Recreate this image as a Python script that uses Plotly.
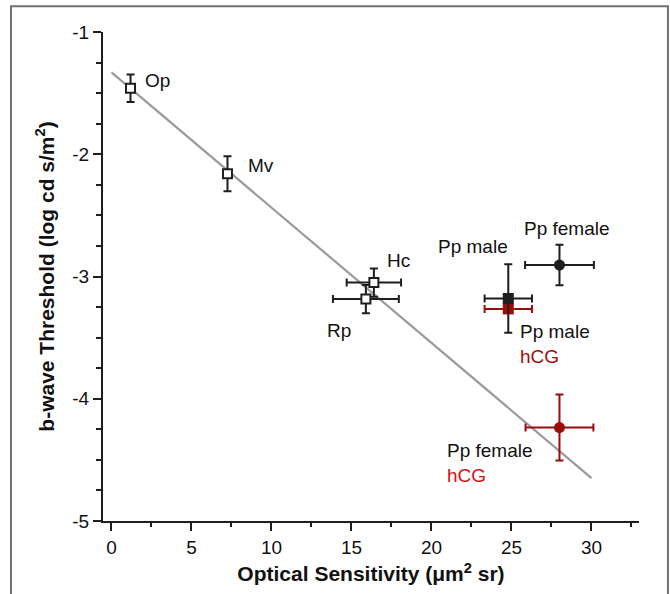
import plotly.graph_objects as go

# ---- data ----
species = ["Op", "Mv", "Hc", "Rp"]
species_sens = [1.19, 7.25, 16.4, 15.9]
species_thr = [-1.46, -2.16, -3.05, -3.185]
species_sens_err = [0, 0, 1.7, 2.06]
species_thr_err = [0.112, 0.143, 0.116, 0.115]

pp_names = ["Pp male", "Pp female"]
pp_sens = [24.8, 28.0]
pp_thr = [-3.18, -2.906]
pp_sens_err = [1.48, 2.15]
pp_thr_err = [0.28, 0.165]

hcg_names = ["Pp male", "Pp female"]
hcg_sens = [24.8, 28.0]
hcg_thr = [-3.265, -4.236]
hcg_sens_err = [1.48, 2.12]
hcg_thr_err = [0, 0.27]

fit_x = [0, 30]
fit_y = [-1.33, -4.65]

x_ticks = [0, 5, 10, 15, 20, 25, 30]
x_tick_labels = ["0", "5", "10", "15", "20", "25", "30"]
y_ticks = [-1, -2, -3, -4, -5]
y_tick_labels = ["-1", "-2", "-3", "-4", "-5"]

BLACK = "#1e1e1e"
RED = "#9b0b0b"
FONT = "Liberation Sans, Arial, sans-serif"

fig = go.Figure()

fig.add_trace(go.Scatter(x=fit_x, y=fit_y, mode="lines",
                         line=dict(color="#9a9a9a", width=2.2), hoverinfo="skip"))

fig.add_trace(go.Scatter(
    x=species_sens, y=species_thr, mode="markers",
    marker=dict(symbol="square", size=9, color="white", opacity=1,
                line=dict(color=BLACK, width=2)),
    error_x=dict(type="data", array=species_sens_err, color=BLACK, thickness=2, width=4),
    error_y=dict(type="data", array=species_thr_err, color=BLACK, thickness=2, width=4),
))

fig.add_trace(go.Scatter(
    x=hcg_sens, y=hcg_thr, mode="markers",
    marker=dict(symbol=["square", "circle"], size=11, color=RED, opacity=1,
                line=dict(width=0)),
    error_x=dict(type="data", array=hcg_sens_err, color=RED, thickness=2, width=4),
    error_y=dict(type="data", array=hcg_thr_err, color=RED, thickness=2, width=4),
))

fig.add_trace(go.Scatter(
    x=pp_sens, y=pp_thr, mode="markers",
    marker=dict(symbol=["square", "circle"], size=11, color=BLACK, opacity=1,
                line=dict(width=0)),
    error_x=dict(type="data", array=pp_sens_err, color=BLACK, thickness=2, width=4),
    error_y=dict(type="data", array=pp_thr_err, color=BLACK, thickness=2, width=4),
))

ann_font = dict(family=FONT, size=19, color="#111111")
# species labels (offsets in px from each point)
sp_offsets = {"Op": (12, 8, "left"), "Mv": (19, 8, "left"),
              "Hc": (11, 22, "left"), "Rp": (-41, -31, "left")}
for name, x, y in zip(species, species_sens, species_thr):
    dx, dy, anc = sp_offsets[name]
    fig.add_annotation(x=x, y=y, text=name, showarrow=False, xanchor=anc,
                       yanchor="middle", xshift=dx, yshift=dy, font=ann_font)

pp_offsets = {"Pp male": (2, 52, "right"), "Pp female": (8, 37, "center")}
for name, x, y in zip(pp_names, pp_sens, pp_thr):
    dx, dy, anc = pp_offsets[name]
    fig.add_annotation(x=x, y=y, text=name, showarrow=False, xanchor=anc,
                       yanchor="middle", xshift=dx, yshift=dy, font=ann_font)

hcg_offsets = {"Pp male": (10, -35, "#a30d0d"), "Pp female": (-114, -35, "#d41111")}
for name, x, y in zip(hcg_names, hcg_sens, hcg_thr):
    dx, dy, col = hcg_offsets[name]
    fig.add_annotation(x=x, y=y, text=f"{name}<br><span style='color:{col}'>hCG</span>",
                       showarrow=False, xanchor="left", yanchor="middle", align="left",
                       xshift=dx, yshift=dy, font=ann_font)

axis_common = dict(
    showline=True, linecolor=BLACK, linewidth=2, showgrid=False, zeroline=False,
    ticks="outside", ticklen=8, tickwidth=2, tickcolor=BLACK,
    tickfont=dict(family=FONT, size=19, color="#111111"),
)

fig.update_xaxes(
    **axis_common, range=[-0.53, 32.97], tickvals=x_ticks, ticktext=x_tick_labels,
    minor=dict(dtick=2.5, tick0=0, ticks="outside", ticklen=4, tickwidth=2, tickcolor=BLACK),
    title=dict(text="<b>Optical Sensitivity (μm<sup>2</sup> sr)</b>", standoff=10,
               font=dict(family=FONT, size=21, color="#111111")),
)
fig.update_yaxes(
    **axis_common, range=[-5, -1], tickvals=y_ticks, ticktext=y_tick_labels,
    minor=dict(dtick=0.25, tick0=0, ticks="outside", ticklen=5, tickwidth=2, tickcolor=BLACK),
    title=dict(text="<b>b-wave Threshold (log cd s/m<sup>2</sup>)</b>", standoff=12,
               font=dict(family=FONT, size=21, color="#111111")),
)

fig.add_shape(type="rect", xref="paper", yref="paper",
              x0=-0.1716, x1=1.054, y0=-0.16, y1=1.0527,
              line=dict(color="#707070", width=2), fillcolor="rgba(0,0,0,0)", layer="below")

fig.update_layout(
    width=670, height=594, autosize=False,
    margin=dict(l=103, r=31, t=32, b=69),
    plot_bgcolor="white", paper_bgcolor="white",
    showlegend=False,
    font=dict(family=FONT),
)

fig.write_html("out.html", config={"displayModeBar": False},
               post_script="document.body.style.margin='0';")
